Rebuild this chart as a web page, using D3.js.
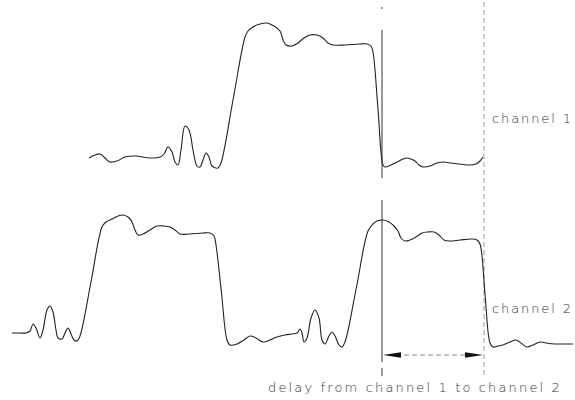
<!DOCTYPE html>
<html>
<head>
<meta charset="utf-8">
<script src="https://cdn.jsdelivr.net/npm/d3@7"></script>
<style>
  html, body { margin: 0; padding: 0; background: #fff; }
  svg { display: block; }
  text { font-family: "DejaVu Sans", sans-serif; font-weight: 300; fill: #333; }
</style>
</head>
<body>
<svg id="chart" width="575" height="400"></svg>
<script>
// ---- data (time in ns, level in arbitrary units) ----
const ch1Time  = [17.8,19,20,21,22,23.4,25,27,30,32,32.8,33.6,34.4,35,35.6,36.2,37,37.8,38.6,39.4,40,40.6,41.2,41.8,42.4,43.6,44.2,46.6,49,49.6,50.6,52,53.4,54.8,56,56.6,57.2,58.4,59.6,60.8,62,63.4,64.6,65.6,66.6,69,72,73.4,74.2,74.6,75.6,76.6,77,78.2,79.4,80.6,81.4,82.2,83,83.8,84.6,86,87.4,88.8,90,92,94,95.2,96,96.6];
const ch1Level = [4,7,8,4,0,1,5,6,4,5,8,15,10,0,-3,12,36,32,12,-4,-5,2,9,5,-4,-6,-1,62,125,131,135,138,139,136,131,122,117,116,119,124,127,127,124,119,117,117,118,118,116,110,53,-3,-5,-3,0,3,4,3,1,-3,-5,-4,-1,0,-1,-2,-3,-2,1,5];

const ch2Time  = [2.4,4,5.2,6,6.6,7.2,8,8.6,9.4,10,10.6,11.2,11.6,12.4,13,13.6,14.2,14.8,15.4,16,18.2,20.4,21.2,22.4,23.6,24.6,25.6,26.4,27,27.6,28.6,30,31.4,32.8,34,35,36,38,40.6,42,42.8,43.2,44.3,45.4,46,47.4,48.8,50,51.2,52.6,54,55.4,57,58.4,59.4,60,60.4,60.8,61.4,62.2,63,63.8,64.4,65,65.8,66.4,67,67.8,68.4,69,71.3,73.6,74.6,75.4,76.6,77.8,78.8,79.6,80.2,81,82,83.2,84.4,85.6,86.8,87.8,88.8,90,92,94.4,95.4,96,97,98,98.6,99.6,100.6,102,103.2,104.2,105.4,106.6,108,109.2,111,113,114.6];
const ch2Level = [7,7,7,9,16,12,2,10,30,34,28,10,2,1,7,12,6,0,-1,4,58,113,118,121,124,125,123,118,110,105,106,110,114,114,113,110,106,106,107,107,104,95,47,0,-5,-4,0,4,2,-2,0,3,5,6,7,11,7,-2,2,22,30,22,0,-4,4,8,4,-5,-7,-2,53,109,116,119,120,118,114,109,102,99,100,103,107,108,108,105,100,99,100,101,100,96,46,-3,-7,-6,-5,-2,0,-3,-7,-5,-2,-3,-4,-4,-4];

const cursorTimes = [76.4, 96.8];
const labels = ["channel 1", "channel 2", "delay from channel 1 to channel 2"];

// ---- scales ----
const svg = d3.select("#chart");
const x = d3.scaleLinear().domain([0, 115]).range([0, 575]);
const y1 = d3.scaleLinear().domain([0, 120]).range([162, 42]);
const y2 = d3.scaleLinear().domain([0, 120]).range([340, 220]);

const ch1 = ch1Time.map((t, i) => [t, ch1Level[i]]);
const ch2 = ch2Time.map((t, i) => [t, ch2Level[i]]);

// ---- cursors ----
const cx1 = x(cursorTimes[0]), cx2 = x(cursorTimes[1]);
const g = svg.append("g");
[[7, 9], [30, 178], [200, 362], [368, 376]].forEach(([a, b]) => {
  g.append("line").attr("x1", cx1).attr("x2", cx1).attr("y1", a).attr("y2", b)
    .attr("stroke", "#333").attr("stroke-width", 1);
});
g.append("line").attr("x1", cx2).attr("x2", cx2).attr("y1", 2).attr("y2", 378)
  .attr("stroke", "#999").attr("stroke-width", 1).attr("stroke-dasharray", "5,3");

// ---- waveforms ----
const line1 = d3.line().x(d => x(d[0])).y(d => y1(d[1])).curve(d3.curveCatmullRom.alpha(0.5));
const line2 = d3.line().x(d => x(d[0])).y(d => y2(d[1])).curve(d3.curveCatmullRom.alpha(0.5));
svg.append("path").datum(ch1).attr("d", line1)
  .attr("fill", "none").attr("stroke", "#222").attr("stroke-width", 1.1);
svg.append("path").datum(ch2).attr("d", line2)
  .attr("fill", "none").attr("stroke", "#222").attr("stroke-width", 1.1);

// ---- delay arrow ----
const ay = 355;
svg.append("line").attr("x1", cx1 + 14).attr("x2", cx2 - 14).attr("y1", ay).attr("y2", ay)
  .attr("stroke", "#888").attr("stroke-width", 1).attr("stroke-dasharray", "5,3");
svg.append("path")
  .attr("d", `M${cx1 + 1},${ay} L${cx1 + 19},${ay - 2.8} L${cx1 + 19},${ay + 2.8} Z`)
  .attr("fill", "#111");
svg.append("path")
  .attr("d", `M${cx2 - 1},${ay} L${cx2 - 19},${ay - 2.8} L${cx2 - 19},${ay + 2.8} Z`)
  .attr("fill", "#111");

// ---- labels ----
svg.append("text").attr("x", 492).attr("y", 123).attr("font-size", 13)
  .attr("letter-spacing", 1.9).text(labels[0]);
svg.append("text").attr("x", 492).attr("y", 313).attr("font-size", 13)
  .attr("letter-spacing", 1.9).text(labels[1]);
svg.append("text").attr("x", 268).attr("y", 392).attr("font-size", 13)
  .attr("letter-spacing", 2.15).text(labels[2]);
</script>
</body>
</html>
